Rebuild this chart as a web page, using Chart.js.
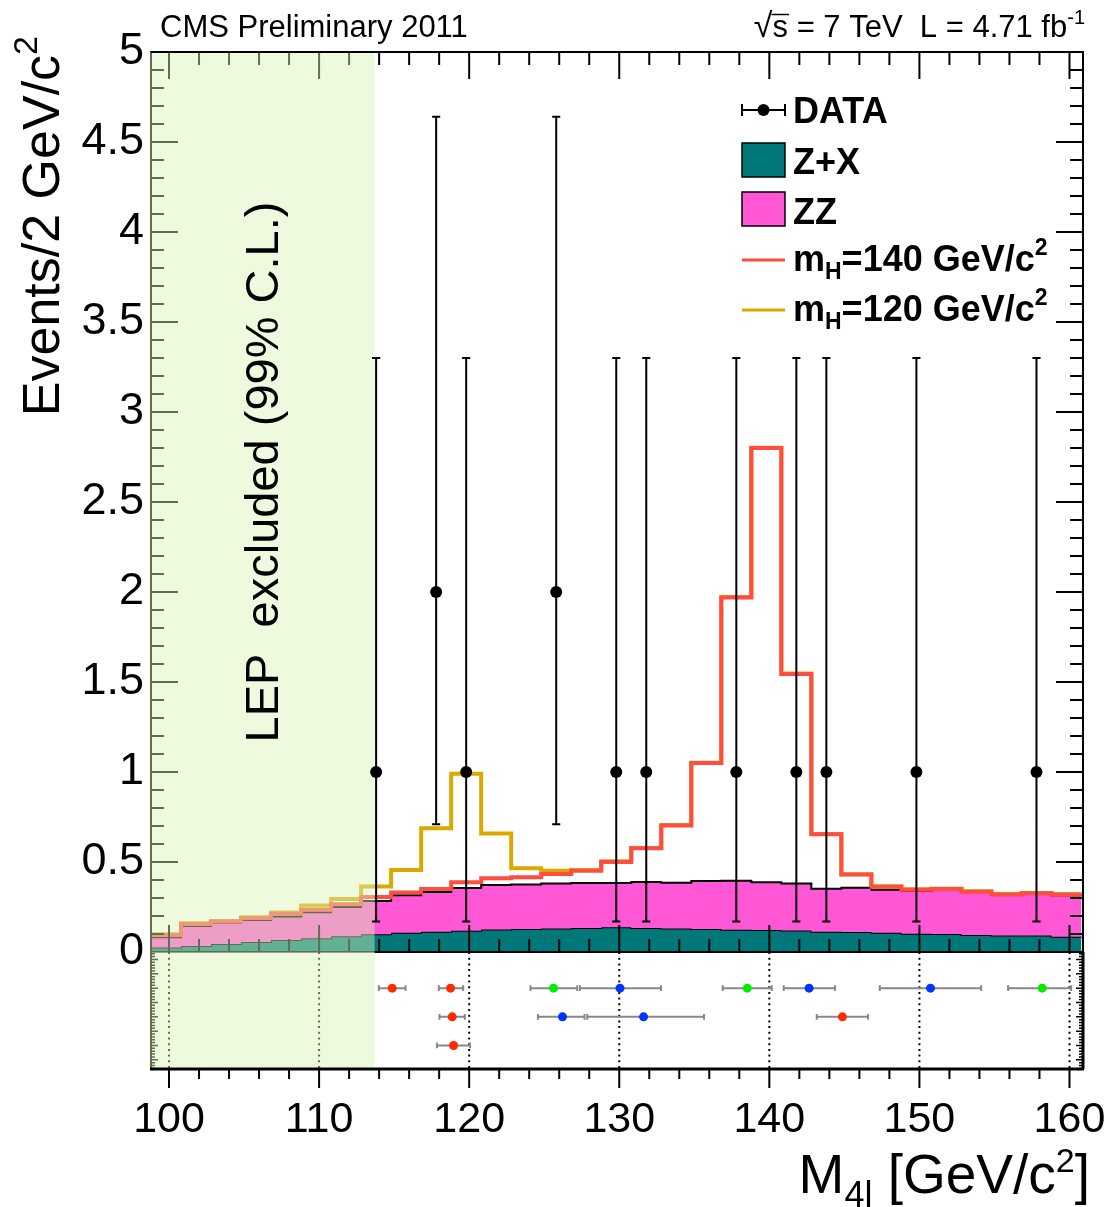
<!DOCTYPE html>
<html lang="en">
<head>
<meta charset="UTF-8">
<title>M4l spectrum</title>
<script src="https://cdn.jsdelivr.net/npm/chart.js"></script>
<style>
  body { margin: 0; background: #fff; }
  #wrap { position: relative; width: 1106px; height: 1207px; }
  #wrap canvas { position: absolute; left: 0; }
  #main { top: 0; }
  #low { top: 940px; }
</style>
</head>
<body>
<div id="wrap">
  <canvas id="main" width="1106" height="1000"></canvas>
  <canvas id="low" width="1106" height="267"></canvas>
</div>
<script>
const FONT = '"Liberation Sans", Arial, Helvetica, sans-serif';
Chart.defaults.font.family = FONT;

// 2 GeV bins: low edges, the last entry closes the last bin
const binEdges = [98.8, 100.8, 102.8, 104.8, 106.8, 108.8, 110.8, 112.8, 114.8, 116.8,
  118.8, 120.8, 122.8, 124.8, 126.8, 128.8, 130.8, 132.8, 134.8, 136.8, 138.8, 140.8,
  142.8, 144.8, 146.8, 148.8, 150.8, 152.8, 154.8, 156.8, 158.8, 160.8];

// stacked heights (events / 2 GeV)
const zxTop = [0.025, 0.034, 0.044, 0.056, 0.067, 0.076, 0.088, 0.098, 0.107, 0.113,
  0.118, 0.125, 0.128, 0.131, 0.133, 0.137, 0.133, 0.130, 0.128, 0.124, 0.122, 0.120,
  0.113, 0.111, 0.107, 0.102, 0.100, 0.094, 0.091, 0.091, 0.085];
const zzTop = [0.082, 0.145, 0.162, 0.178, 0.197, 0.221, 0.250, 0.283, 0.315, 0.333,
  0.355, 0.372, 0.375, 0.380, 0.383, 0.383, 0.389, 0.385, 0.394, 0.396, 0.387, 0.381,
  0.352, 0.357, 0.346, 0.339, 0.346, 0.333, 0.317, 0.322, 0.315];
const mh140Top = [0.095, 0.156, 0.169, 0.189, 0.212, 0.235, 0.265, 0.305, 0.331, 0.350,
  0.387, 0.410, 0.415, 0.434, 0.452, 0.500, 0.576, 0.703, 1.050, 1.970, 2.800, 1.545,
  0.654, 0.430, 0.363, 0.346, 0.350, 0.335, 0.320, 0.326, 0.319];
const mh120Top = [0.098, 0.160, 0.172, 0.193, 0.220, 0.259, 0.294, 0.364, 0.456, 0.688,
  0.990, 0.659, 0.465, 0.452, 0.455, 0.504, 0.578, 0.705, 1.052, 1.972, 2.802, 1.547,
  0.656, 0.432, 0.365, 0.348, 0.352, 0.337, 0.322, 0.328, 0.321];

// observed events per bin with their Poisson intervals
const dataMass = [113.8, 117.8, 119.8, 125.8, 129.8, 131.8, 137.8, 141.8, 143.8, 149.8, 157.8];
const dataCount = [1, 2, 1, 2, 1, 1, 1, 1, 1, 1, 1];
const dataLo = [0.17, 0.71, 0.17, 0.71, 0.17, 0.17, 0.17, 0.17, 0.17, 0.17, 0.17];
const dataHi = [3.30, 4.64, 3.30, 4.64, 3.30, 3.30, 3.30, 3.30, 3.30, 3.30, 3.30];

// individual events in the lower panel: mass, mass error range, row, channel
const evMass = [114.87, 118.76, 118.87, 118.96, 125.62, 126.22, 130.05, 131.62, 138.53, 142.65, 144.87, 150.74, 158.18];
const evLo = [113.98, 117.98, 118.02, 117.85, 124.09, 124.58, 127.38, 127.87, 136.89, 140.96, 143.16, 147.36, 155.91];
const evHi = [115.76, 119.60, 119.71, 120.05, 127.20, 127.69, 132.78, 135.65, 140.16, 144.38, 146.58, 154.11, 160.11];
const evRow = [1, 1, 2, 3, 1, 2, 1, 2, 1, 1, 2, 1, 1];
const evChannel = ['4e', '4e', '4e', '4e', '4mu', '2e2mu', '2e2mu', '2e2mu', '4mu', '2e2mu', '4e', '2e2mu', '4mu'];

const xTickLabels = [100, 110, 120, 130, 140, 150, 160];
const yTickStep = 0.5;
const lepLimit = 113.7;
const xMin = 98.8, xMax = 160.9;

const COL = { zx: '#00787a', zz: '#ff57d6', h140: '#ff4d42', h120: '#d9a900' };
const CH_COL = { '4e': '#ff2a00', '4mu': '#00ee00', '2e2mu': '#0033ff' };
const LEP_FILL = 'rgba(217, 244, 182, 0.45)';
const CAP = 0.27;       // GeV, half width of data error-bar caps
const ROW_CAP = 0.1;    // row units, half height of the event bar caps

const histPoints = tops => binEdges.map((e, i) => ({ x: e, y: tops[Math.min(i, tops.length - 1)] }));

const errPoints = [];
dataMass.forEach((m, i) => {
  errPoints.push({ x: m, y: dataLo[i] }, { x: m, y: dataHi[i] }, { x: m, y: null });
  errPoints.push({ x: m - CAP, y: dataHi[i] }, { x: m + CAP, y: dataHi[i] }, { x: m, y: null });
  errPoints.push({ x: m - CAP, y: dataLo[i] }, { x: m + CAP, y: dataLo[i] }, { x: m, y: null });
});

// draws a run of text pieces left to right, returns the width
function rich(ctx, parts, x, y, measureOnly) {
  let w = 0;
  for (const p of parts) {
    ctx.font = (p.bold ? 'bold ' : '') + p.size + 'px ' + FONT;
    if (!measureOnly) ctx.fillText(p.t, x + w, y + (p.dy || 0));
    w += ctx.measureText(p.t).width;
  }
  return w;
}

const ERR_IDX = 4;

const mainDeco = {
  id: 'mainDeco',
  beforeDatasetDraw(chart, args) {
    if (args.index !== ERR_IDX) return;
    const { ctx, chartArea: a, scales: { x, y } } = chart;
    ctx.save();
    ctx.strokeStyle = '#000';
    ctx.lineWidth = 2;
    ctx.strokeRect(a.left, a.top, a.right - a.left, a.bottom - a.top);
    ctx.beginPath();
    for (let v = 100; v <= 160; v += 2) {
      const px = x.getPixelForValue(v);
      const len = v % 10 === 0 ? 27 : 13;
      ctx.moveTo(px, a.bottom); ctx.lineTo(px, a.bottom - len);
      ctx.moveTo(px, a.top); ctx.lineTo(px, a.top + len);
    }
    for (let k = 0; k <= 50; k++) {
      const py = y.getPixelForValue(k / 10);
      const len = k % 5 === 0 ? 27 : 13;
      ctx.moveTo(a.left, py); ctx.lineTo(a.left + len, py);
      ctx.moveTo(a.right, py); ctx.lineTo(a.right - len, py);
    }
    ctx.stroke();
    const xl = x.getPixelForValue(lepLimit);
    ctx.fillStyle = LEP_FILL;
    ctx.fillRect(a.left - 1, a.top, xl - a.left + 1, a.bottom - a.top + 1);
    ctx.beginPath();
    ctx.moveTo(a.left, a.top); ctx.lineTo(xl, a.top);
    ctx.stroke();
    ctx.restore();
  },
  afterDraw(chart) {
    const { ctx } = chart;
    ctx.save();
    ctx.fillStyle = '#000';
    ctx.textBaseline = 'alphabetic';
    ctx.textAlign = 'left';

    rich(ctx, [{ t: 'CMS Preliminary 2011', size: 31 }], 160, 37);

    // sqrt(s) = 7 TeV  L = 4.71 fb^-1, right aligned to the frame
    const top = [{ t: '\u221A', size: 34 }, { t: 's = 7 TeV  L = 4.71 fb', size: 31 }, { t: '-1', size: 20, dy: -13 }];
    const tw = rich(ctx, top, 0, 0, true);
    const tx = 1085 - tw;
    rich(ctx, top, tx, 37);
    ctx.font = '34px ' + FONT;
    const sq = ctx.measureText('\u221A').width;
    ctx.font = '31px ' + FONT;
    const sw = ctx.measureText('s').width;
    ctx.strokeStyle = '#000';
    ctx.lineWidth = 1.5;
    ctx.beginPath();
    ctx.moveTo(tx + sq - 1, 14.5); ctx.lineTo(tx + sq + sw + 1, 14.5);
    ctx.stroke();

    // legend
    const lx0 = 742, lx1 = 785, tx0 = 793;
    const rows = [110, 160, 209, 260, 310];
    ctx.lineWidth = 2;
    ctx.beginPath();
    ctx.moveTo(lx0, rows[0]); ctx.lineTo(lx1, rows[0]);
    ctx.moveTo(lx0, rows[0] - 6); ctx.lineTo(lx0, rows[0] + 6);
    ctx.moveTo(lx1, rows[0] - 6); ctx.lineTo(lx1, rows[0] + 6);
    ctx.stroke();
    ctx.beginPath();
    ctx.arc((lx0 + lx1) / 2, rows[0], 6, 0, Math.PI * 2);
    ctx.fill();
    ctx.lineWidth = 1.5;
    [[rows[1], COL.zx], [rows[2], COL.zz]].forEach(([cy, c]) => {
      ctx.fillStyle = c;
      ctx.fillRect(lx0, cy - 17, lx1 - lx0, 34);
      ctx.strokeRect(lx0, cy - 17, lx1 - lx0, 34);
    });
    ctx.lineWidth = 3;
    [[rows[3], COL.h140], [rows[4], COL.h120]].forEach(([cy, c]) => {
      ctx.strokeStyle = c;
      ctx.beginPath(); ctx.moveTo(lx0, cy); ctx.lineTo(lx1, cy); ctx.stroke();
    });
    ctx.fillStyle = '#000';
    const B = 36, S = 23;
    rich(ctx, [{ t: 'DATA', size: B, bold: true }], tx0, rows[0] + 13);
    rich(ctx, [{ t: 'Z+X', size: B, bold: true }], tx0, rows[1] + 14);
    rich(ctx, [{ t: 'ZZ', size: B, bold: true }], tx0, rows[2] + 15);
    ['140', '120'].forEach((m, k) => {
      rich(ctx, [
        { t: 'm', size: B, bold: true }, { t: 'H', size: S, bold: true, dy: 8 },
        { t: '=' + m + ' GeV/c', size: B, bold: true }, { t: '2', size: S, bold: true, dy: -16 }
      ], tx0, rows[3 + k] + 11);
    });

    // rotated texts
    ctx.save();
    ctx.translate(278, 472);
    ctx.rotate(-Math.PI / 2);
    ctx.textAlign = 'center';
    ctx.font = '47px ' + FONT;
    ctx.fillText('LEP  excluded (99% C.L.)', 0, 0);
    ctx.restore();

    ctx.save();
    ctx.translate(59, 36);
    ctx.rotate(-Math.PI / 2);
    const yt = [{ t: 'Events/2 GeV/c', size: 52 }, { t: '2', size: 34, dy: -22 }];
    const yw = rich(ctx, yt, 0, 0, true);
    rich(ctx, yt, -yw, 0);
    ctx.restore();
    ctx.restore();
  }
};

new Chart(document.getElementById('main'), {
  type: 'line',
  data: {
    datasets: [
      { label: 'Z+X', data: histPoints(zxTop), stepped: true, borderColor: '#000', borderWidth: 2,
        backgroundColor: COL.zx, fill: 'origin', pointRadius: 0, order: 6 },
      { label: 'ZZ', data: histPoints(zzTop), stepped: true, borderColor: '#000', borderWidth: 2,
        backgroundColor: COL.zz, fill: 0, pointRadius: 0, order: 5 },
      { label: 'mH=120', data: histPoints(mh120Top), stepped: true, borderColor: COL.h120, borderWidth: 4,
        fill: false, pointRadius: 0, order: 7 },
      { label: 'mH=140', data: histPoints(mh140Top), stepped: true, borderColor: COL.h140, borderWidth: 4,
        fill: false, pointRadius: 0, order: 4 },
      { label: 'err', data: errPoints, borderColor: '#000', borderWidth: 2, fill: false,
        pointRadius: 0, spanGaps: false, order: 3 },
      { label: 'DATA', data: dataMass.map((m, i) => ({ x: m, y: dataCount[i] })), showLine: false,
        pointRadius: 6, pointBackgroundColor: '#000', pointBorderWidth: 0, order: 2 }
    ]
  },
  options: {
    responsive: false,
    animation: false,
    events: [],
    layout: { padding: { left: 0, right: 23, top: 52, bottom: 48 } },
    plugins: { legend: { display: false }, tooltip: { enabled: false } },
    scales: {
      x: { type: 'linear', min: xMin, max: xMax, display: false },
      y: {
        min: 0, max: 5,
        ticks: { stepSize: yTickStep, color: '#000', font: { size: 45 }, padding: 7,
          callback: v => String(v) },
        grid: { display: false, drawTicks: false },
        border: { display: false },
        afterFit: s => { s.width = 151; }
      }
    }
  },
  plugins: [mainDeco]
});

// lower panel: one marker per event
const evErr = [];
evMass.forEach((m, i) => {
  const r = evRow[i];
  evErr.push({ x: evLo[i], y: r }, { x: evHi[i], y: r }, { x: m, y: null });
  evErr.push({ x: evLo[i], y: r - ROW_CAP }, { x: evLo[i], y: r + ROW_CAP }, { x: m, y: null });
  evErr.push({ x: evHi[i], y: r - ROW_CAP }, { x: evHi[i], y: r + ROW_CAP }, { x: m, y: null });
});

const lowDeco = {
  id: 'lowDeco',
  beforeDatasetsDraw(chart) {
    const { ctx, chartArea: a, scales: { x, y } } = chart;
    ctx.save();
    ctx.strokeStyle = '#000';
    ctx.lineWidth = 2;
    ctx.setLineDash([2, 3.7]);
    ctx.beginPath();
    xTickLabels.forEach(v => {
      const px = x.getPixelForValue(v);
      ctx.moveTo(px, a.top); ctx.lineTo(px, a.bottom);
    });
    ctx.stroke();
    ctx.setLineDash([]);
    ctx.lineWidth = 1.5;
    ctx.beginPath();
    for (let k = -2; k <= 38; k++) {
      const py = y.getPixelForValue(k / 10);
      const len = k % 5 === 0 ? 7 : 4;
      ctx.moveTo(a.left, py); ctx.lineTo(a.left + len, py);
      ctx.moveTo(a.right, py); ctx.lineTo(a.right - len, py);
    }
    ctx.stroke();
    ctx.lineWidth = 2;
    ctx.beginPath();
    ctx.moveTo(a.left, a.top); ctx.lineTo(a.left, a.bottom);
    ctx.moveTo(a.right, a.top); ctx.lineTo(a.right, a.bottom);
    for (let v = 100; v <= 160; v += 2) {
      const px = x.getPixelForValue(v);
      ctx.moveTo(px, a.bottom); ctx.lineTo(px, a.bottom + (v % 10 === 0 ? 19 : 10));
    }
    ctx.stroke();
    const xl = x.getPixelForValue(lepLimit);
    ctx.fillStyle = LEP_FILL;
    ctx.fillRect(a.left - 1, a.top, xl - a.left + 1, a.bottom - a.top);
    ctx.lineWidth = 3;
    ctx.beginPath();
    ctx.moveTo(a.left - 1, a.bottom); ctx.lineTo(a.right + 1, a.bottom);
    ctx.moveTo(a.right, a.top); ctx.lineTo(a.right, a.bottom);
    ctx.stroke();
    ctx.restore();
  },
  afterDraw(chart) {
    const { ctx } = chart;
    ctx.save();
    ctx.fillStyle = '#000';
    ctx.textAlign = 'left';
    ctx.textBaseline = 'alphabetic';
    const parts = [
      { t: 'M', size: 55 }, { t: '4l', size: 36, dy: 14 },
      { t: ' [GeV/c', size: 55 }, { t: '2', size: 34, dy: -21 }, { t: ']', size: 55 }
    ];
    const w = rich(ctx, parts, 0, 0, true);
    rich(ctx, parts, 1090 - w, 253);
    ctx.restore();
  }
};

new Chart(document.getElementById('low'), {
  type: 'line',
  data: {
    datasets: [
      { label: 'mass error', data: evErr, borderColor: '#888', borderWidth: 2, fill: false,
        pointRadius: 0, spanGaps: false, order: 2 },
      { label: 'events', data: evMass.map((m, i) => ({ x: m, y: evRow[i] })), showLine: false,
        pointRadius: 4.5, pointBorderWidth: 0,
        pointBackgroundColor: evChannel.map(c => CH_COL[c]), order: 1 }
    ]
  },
  options: {
    responsive: false,
    animation: false,
    events: [],
    layout: { padding: { left: 151, right: 23, top: 12, bottom: 0 } },
    plugins: { legend: { display: false }, tooltip: { enabled: false } },
    scales: {
      x: {
        type: 'linear', min: xMin, max: xMax,
        afterBuildTicks: s => { s.ticks = xTickLabels.map(v => ({ value: v })); },
        ticks: { color: '#000', font: { size: 43 }, padding: 25, maxRotation: 0, autoSkip: false },
        grid: { display: false, drawTicks: false },
        border: { display: false },
        afterFit: s => { s.height = 138; s.paddingLeft = 0; s.paddingRight = 0; }
      },
      y: { display: false, min: -0.26, max: 3.82, reverse: true }
    }
  },
  plugins: [lowDeco]
});
</script>
</body>
</html>
